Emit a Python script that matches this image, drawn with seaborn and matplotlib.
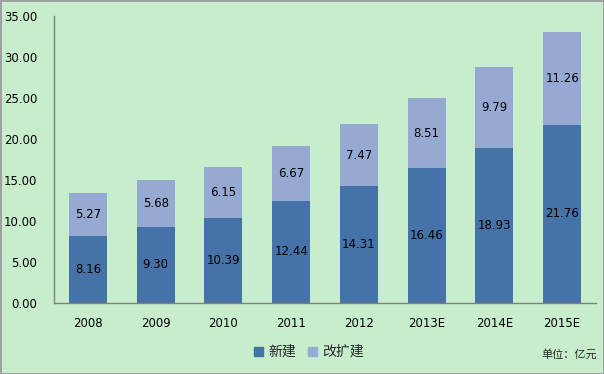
import matplotlib
matplotlib.use('Agg')
from matplotlib import pyplot as plt
from matplotlib.patches import Patch
import seaborn as sns
import pandas as pd

years = ['2008', '2009', '2010', '2011', '2012', '2013E', '2014E', '2015E']
new_build = [8.16, 9.30, 10.39, 12.44, 14.31, 16.46, 18.93, 21.76]
expansion = [5.27, 5.68, 6.15, 6.67, 7.47, 8.51, 9.79, 11.26]

bg = '#C8EDCC'
dark = '#4573A7'
light = '#95A9D2'

df = pd.DataFrame({'year': years, 'new': new_build, 'exp': expansion})
df['total'] = df['new'] + df['exp']

sns.set_theme(style='white')
plt.rcParams['font.family'] = ['DejaVu Sans', 'Noto Sans CJK SC']

fig = plt.figure(figsize=(6.04, 3.74), dpi=100, facecolor=bg, edgecolor='#A0A0A0', linewidth=2)
ax = fig.add_axes([54 / 604, 1 - 303 / 374, 542 / 604, 287 / 374])
ax.set_facecolor(bg)

sns.barplot(data=df, x='year', y='total', color=light, width=0.56, saturation=1,
            linewidth=0, edgecolor='none', ax=ax)
sns.barplot(data=df, x='year', y='new', color=dark, width=0.56, saturation=1,
            linewidth=0, edgecolor='none', ax=ax)

for i, (n, e) in enumerate(zip(new_build, expansion)):
    ax.text(i, n / 2, f'{n:.2f}', ha='center', va='center', fontsize=8.5, color='black')
    ax.text(i, n + e / 2, f'{e:.2f}', ha='center', va='center', fontsize=8.5, color='black')

ax.set_ylim(0, 35)
ax.set_xlim(-0.5, 7.5)
ax.set_yticks(range(0, 36, 5))
ax.set_yticklabels([f'{v:.2f}' for v in range(0, 36, 5)], fontsize=8.5)
ax.tick_params(axis='x', labelsize=8.5, pad=10, length=0, colors='black')
ax.tick_params(axis='y', pad=12, length=0, colors='black')
ax.set_xlabel('')
ax.set_ylabel('')
for s in ['top', 'right']:
    ax.spines[s].set_visible(False)
for s in ['left', 'bottom']:
    ax.spines[s].set_color('#808080')
    ax.spines[s].set_linewidth(1)

handles = [Patch(color=dark, label='新建'), Patch(color=light, label='改扩建')]
fig.legend(handles=handles, loc='center', bbox_to_anchor=(309 / 604, 1 - 352 / 374), ncol=2,
           frameon=False, handlelength=0.6, handleheight=0.6, columnspacing=0.9,
           handletextpad=0.4, prop={'family': ['Noto Sans CJK SC'], 'size': 10})
fig.text(541 / 604, 1 - 354 / 374, '单位：亿元', fontsize=8, va='center', ha='left',
         family=['Noto Sans CJK SC'])

fig.savefig('out.png', dpi=100, facecolor=bg, edgecolor='#A0A0A0')
